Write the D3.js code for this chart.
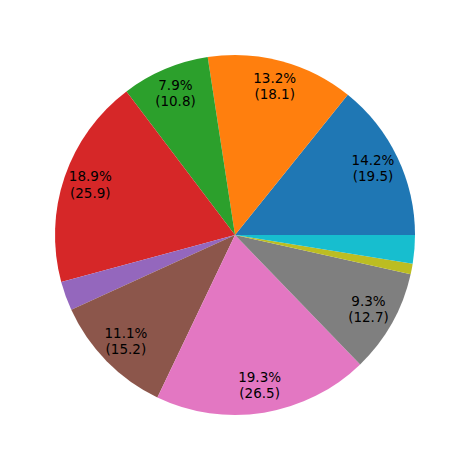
<!DOCTYPE html>
<html><head><meta charset="utf-8">
<script src="https://cdn.jsdelivr.net/npm/d3@7"></script>
<style>body{margin:0;background:#fff}svg{display:block}</style>
</head><body>
<script>
const categories = ["A","B","C","D","E","F","G","H","I","J"];
const values = [19.5, 18.1, 10.8, 25.9, 3.6, 15.2, 26.5, 12.7, 1.3, 3.5];
const colors = ["#1f77b4","#ff7f0e","#2ca02c","#d62728","#9467bd","#8c564b","#e377c2","#7f7f7f","#bcbd22","#17becf"];

const W = 469, H = 470, cx = 235, cy = 235, R = 180;
const svg = d3.select("body").append("svg").attr("width", W).attr("height", H);
const g = svg.append("g").attr("transform", `translate(${cx},${cy})`);
const total = d3.sum(values);

// matplotlib: start at 3 o'clock, counterclockwise
const pie = d3.pie().sort(null).value(d => d)
  .startAngle(Math.PI / 2).endAngle(Math.PI / 2 - 2 * Math.PI);
const arcs = pie(values);
const arc = d3.arc().innerRadius(0).outerRadius(R);

g.selectAll("path").data(arcs).join("path")
  .attr("d", arc).attr("fill", (d, i) => colors[i]);

const lr = R * 0.85;
const labeled = arcs.filter(d => d.data / total > 0.05);
const t = g.selectAll("text").data(labeled).join("text")
  .attr("font-family", "DejaVu Sans, sans-serif").attr("font-size", "13.5px")
  .attr("fill", "#000").attr("text-anchor", "middle")
  .attr("transform", d => {
    const a = (d.startAngle + d.endAngle) / 2;
    return `translate(${lr * Math.sin(a)},${-lr * Math.cos(a)})`;
  });
t.append("tspan").attr("x", 0).attr("dy", "-0.3em").text(d => (d.data / total * 100).toFixed(1) + "%");
t.append("tspan").attr("x", 0).attr("dy", "1.2em").text(d => "(" + d.data.toFixed(1) + ")");
</script>
</body></html>
